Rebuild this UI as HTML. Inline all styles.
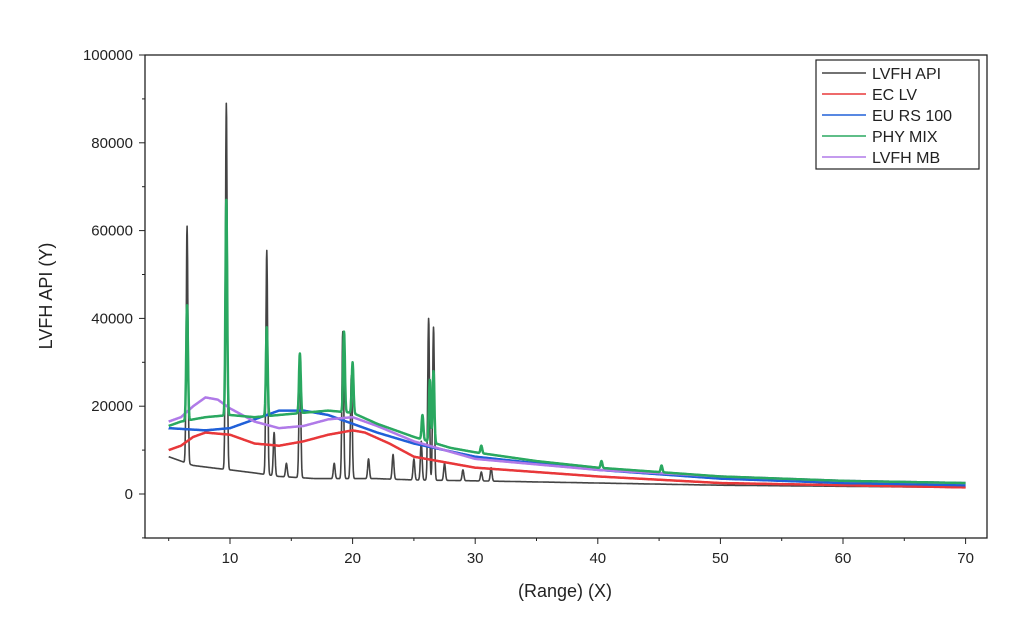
<!DOCTYPE html>
<html><head><meta charset="utf-8"><style>
body{margin:0;background:#fff;font-family:"Liberation Sans",Arial,sans-serif}
svg text{font-family:"Liberation Sans",Arial,sans-serif;fill:#222}
</style></head><body>
<svg id="chart" width="1016" height="620" xmlns="http://www.w3.org/2000/svg"></svg>
<script>
const xTicks=[10,20,30,40,50,60,70];
const yTicks=[0,20000,40000,60000,80000,100000];
const seriesNames=["LVFH API","EC LV","EU RS 100","PHY MIX","LVFH MB"];
const seriesColors=["#444","#e8383a","#2060d8","#2aa860","#b07ae8"];
const apiBase=[[5,8500],[6,7500],[7,6500],[9,5800],[10,5500],[12,4800],[14,4000],[17,3500],[19,3500],[22,3500],[25,3200],[30,3000],[40,2500],[50,2000],[70,1500]];
const apiPeaks=[[6.5,61000],[9.7,89000],[13.0,55500],[13.6,14000],[14.6,7000],[15.7,32000],[18.5,7000],[19.2,37000],[19.9,27000],[21.3,8000],[23.3,9000],[25.0,8000],[25.6,12000],[26.2,40000],[26.6,38000],[27.5,7000],[29,5500],[30.5,5000],[31.3,6000]];
const ecBase=[[5,10000],[6,11000],[7,13000],[8,14000],[10,13500],[12,11500],[14,11000],[16,12000],[18,13500],[20,14500],[21,14000],[23,11500],[25,8500],[30,6000],[40,4000],[50,2500],[60,2000],[70,1500]];
const euBase=[[5,15000],[8,14500],[10,15000],[12,17000],[14,19000],[16,19000],[18,18000],[20,16000],[22,14000],[25,11500],[30,8500],[40,5500],[50,3500],[60,2500],[70,2000]];
const phyBase=[[5,15500],[6,16500],[8,17500],[10,18000],[12,17500],[14,18000],[16,18500],[18,19000],[20,18500],[22,16000],[25,13000],[28,10500],[30,9500],[35,7500],[40,6000],[50,4000],[60,3000],[70,2500]];
const phyPeaks=[[6.5,43000],[9.7,67000],[13.0,38000],[15.7,32000],[19.3,37000],[20.0,30000],[25.7,18000],[26.3,26000],[26.6,28000],[30.5,11000],[40.3,7500],[45.2,6500]];
const mbBase=[[5,16500],[6,17500],[7,20000],[8,22000],[9,21500],[10,19500],[12,16500],[14,15000],[16,15500],[18,17000],[20,17500],[22,15500],[25,12000],[30,8000],[40,5500],[50,4000],[60,3000],[70,2500]];
const seriesBases=[apiBase,ecBase,euBase,phyBase,mbBase];
const seriesPeaks=[apiPeaks,[],[],phyPeaks,[]];

const X=v=>230+(v-10)*12.26;
const Y=v=>494-v*0.00439;
const svg=document.getElementById('chart');
const NS='http://www.w3.org/2000/svg';
function mk(t,a){const e=document.createElementNS(NS,t);for(const k in a)e.setAttribute(k,a[k]);svg.appendChild(e);return e;}
function interp(b,x){for(let i=0;i<b.length-1;i++){if(x<=b[i+1][0]){const t=(x-b[i][0])/(b[i+1][0]-b[i][0]);return b[i][1]+t*(b[i+1][1]-b[i][1]);}}return b[b.length-1][1];}
let f=mk('rect',{x:145,y:55,width:842,height:483,fill:'none',stroke:'#222','stroke-width':1.3});

xTicks.forEach(t=>{
 let l=mk('line',{x1:X(t),x2:X(t),y1:538,y2:544,stroke:'#222'});
 
 let m=mk('line',{x1:X(t-5),x2:X(t-5),y1:538,y2:541,stroke:'#222'});
 
 let tx=mk('text',{x:X(t),y:563,'text-anchor':'middle','font-size':15});tx.textContent=t;
 
});
yTicks.forEach(t=>{
 let l=mk('line',{x1:139,x2:145,y1:Y(t),y2:Y(t),stroke:'#222'});
 
 let m=mk('line',{x1:142,x2:145,y1:Y(t-10000),y2:Y(t-10000),stroke:'#222'});
 
 let tx=mk('text',{x:133,y:Y(t)+5,'text-anchor':'end','font-size':15});tx.textContent=t;
 
});
let xt=mk('text',{x:565,y:597,'text-anchor':'middle','font-size':18});xt.textContent='(Range) (X)';

let yt=mk('text',{x:52,y:296,'text-anchor':'middle','font-size':18,transform:'rotate(-90 52 296)'});yt.textContent='LVFH API (Y)';

[0,1,2,4,3].forEach(si=>{
 const b=seriesBases[si],pk=seriesPeaks[si];let pts=[];
 for(let x=5;x<=70.001;x+=0.02){
  let y=interp(b,x);
  pk.forEach(p=>{const a=p[1]-interp(b,p[0]);y+=a*Math.exp(-Math.pow((x-p[0])/0.1,2));});
  pts.push(X(x).toFixed(1)+','+Y(y).toFixed(1));
 }
 let pl=mk('polyline',{points:pts.join(' '),fill:'none',stroke:seriesColors[si],'stroke-width':si==0?1.6:2.5,'stroke-linejoin':'round'});
 
 
});
let lg=mk('rect',{x:816,y:60,width:163,height:109,fill:'#fff',stroke:'#222','stroke-width':1.2});

seriesNames.forEach((n,i)=>{
 const y=73+i*21;
 let l=mk('line',{x1:822,x2:866,y1:y,y2:y,stroke:seriesColors[i],'stroke-width':1.5});
 
 let t=mk('text',{x:872,y:y+6,'font-size':16});t.textContent=n;
 
});
</script>
</body></html>
